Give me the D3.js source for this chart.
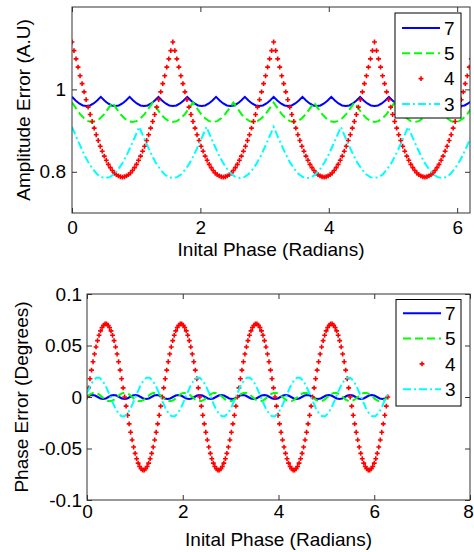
<!DOCTYPE html>
<html>
<head>
<meta charset="utf-8">
<script src="https://cdn.jsdelivr.net/npm/d3@7/dist/d3.min.js"></script>
<style>
	body { margin: 0; background: #fff; }
	text { font-family: "Liberation Sans", Arial, sans-serif; fill: #000; }
</style>
</head>
<body>
<script>
// legend labels, in plot order
var seriesNames = ['7', '5', '4', '3'];

// spacing of the samples along the phase axis (each series runs 0 .. 2pi)
var stepBlue = Math.PI / 56,
	stepGreen = Math.PI / 50,
	stepRed = Math.PI / 100,
	stepCyan = Math.PI / 48;

// ---- amplitude error (top panel) ----
var ampBlue = [
	0.982, 0.973, 0.966, 0.961, 0.960, 0.961, 0.966, 0.973,
	0.982, 0.973, 0.966, 0.961, 0.960, 0.961, 0.966, 0.973,
	0.982, 0.973, 0.966, 0.961, 0.960, 0.961, 0.966, 0.973,
	0.982, 0.973, 0.966, 0.961, 0.960, 0.961, 0.966, 0.973,
	0.982, 0.973, 0.966, 0.961, 0.960, 0.961, 0.966, 0.973,
	0.982, 0.973, 0.966, 0.961, 0.960, 0.961, 0.966, 0.973,
	0.982, 0.973, 0.966, 0.961, 0.960, 0.961, 0.966, 0.973,
	0.982, 0.973, 0.966, 0.961, 0.960, 0.961, 0.966, 0.973,
	0.982, 0.973, 0.966, 0.961, 0.960, 0.961, 0.966, 0.973,
	0.982, 0.973, 0.966, 0.961, 0.960, 0.961, 0.966, 0.973,
	0.982, 0.973, 0.966, 0.961, 0.960, 0.961, 0.966, 0.973,
	0.982, 0.973, 0.966, 0.961, 0.960, 0.961, 0.966, 0.973,
	0.982, 0.973, 0.966, 0.961, 0.960, 0.961, 0.966, 0.973,
	0.982, 0.973, 0.966, 0.961, 0.960, 0.961, 0.966, 0.973,
	0.982
];
var ampGreen = [
	0.968, 0.954, 0.940, 0.930, 0.923, 0.921, 0.923, 0.930, 0.940, 0.954,
	0.968, 0.954, 0.940, 0.930, 0.923, 0.921, 0.923, 0.930, 0.940, 0.954,
	0.968, 0.954, 0.940, 0.930, 0.923, 0.921, 0.923, 0.930, 0.940, 0.954,
	0.968, 0.954, 0.940, 0.930, 0.923, 0.921, 0.923, 0.930, 0.940, 0.954,
	0.968, 0.954, 0.940, 0.930, 0.923, 0.921, 0.923, 0.930, 0.940, 0.954,
	0.968, 0.954, 0.940, 0.930, 0.923, 0.921, 0.923, 0.930, 0.940, 0.954,
	0.968, 0.954, 0.940, 0.930, 0.923, 0.921, 0.923, 0.930, 0.940, 0.954,
	0.968, 0.954, 0.940, 0.930, 0.923, 0.921, 0.923, 0.930, 0.940, 0.954,
	0.968, 0.954, 0.940, 0.930, 0.923, 0.921, 0.923, 0.930, 0.940, 0.954,
	0.968, 0.954, 0.940, 0.930, 0.923, 0.921, 0.923, 0.930, 0.940, 0.954,
	0.968
];
var ampRed = [
	1.115, 1.094, 1.074, 1.054, 1.033, 1.014, 0.994, 0.975, 0.957, 0.939, 0.922, 0.906, 0.890, 0.876, 0.862, 0.850, 0.838, 0.828, 0.818, 0.810, 0.803, 0.797, 0.793, 0.790, 0.788,
	0.787, 0.788, 0.790, 0.793, 0.797, 0.803, 0.810, 0.818, 0.828, 0.838, 0.850, 0.862, 0.876, 0.890, 0.906, 0.922, 0.939, 0.957, 0.975, 0.994, 1.014, 1.033, 1.054, 1.074, 1.094,
	1.115, 1.094, 1.074, 1.054, 1.033, 1.014, 0.994, 0.975, 0.957, 0.939, 0.922, 0.906, 0.890, 0.876, 0.862, 0.850, 0.838, 0.828, 0.818, 0.810, 0.803, 0.797, 0.793, 0.790, 0.788,
	0.787, 0.788, 0.790, 0.793, 0.797, 0.803, 0.810, 0.818, 0.828, 0.838, 0.850, 0.862, 0.876, 0.890, 0.906, 0.922, 0.939, 0.957, 0.975, 0.994, 1.014, 1.033, 1.054, 1.074, 1.094,
	1.115, 1.094, 1.074, 1.054, 1.033, 1.014, 0.994, 0.975, 0.957, 0.939, 0.922, 0.906, 0.890, 0.876, 0.862, 0.850, 0.838, 0.828, 0.818, 0.810, 0.803, 0.797, 0.793, 0.790, 0.788,
	0.787, 0.788, 0.790, 0.793, 0.797, 0.803, 0.810, 0.818, 0.828, 0.838, 0.850, 0.862, 0.876, 0.890, 0.906, 0.922, 0.939, 0.957, 0.975, 0.994, 1.014, 1.033, 1.054, 1.074, 1.094,
	1.115, 1.094, 1.074, 1.054, 1.033, 1.014, 0.994, 0.975, 0.957, 0.939, 0.922, 0.906, 0.890, 0.876, 0.862, 0.850, 0.838, 0.828, 0.818, 0.810, 0.803, 0.797, 0.793, 0.790, 0.788,
	0.787, 0.788, 0.790, 0.793, 0.797, 0.803, 0.810, 0.818, 0.828, 0.838, 0.850, 0.862, 0.876, 0.890, 0.906, 0.922, 0.939, 0.957, 0.975, 0.994, 1.014, 1.033, 1.054, 1.074, 1.094,
	1.115
];
var ampCyan = [
	0.909, 0.885, 0.862, 0.840, 0.821, 0.806, 0.794, 0.787, 0.785, 0.787, 0.794, 0.806, 0.821, 0.840, 0.862, 0.885,
	0.909, 0.885, 0.862, 0.840, 0.821, 0.806, 0.794, 0.787, 0.785, 0.787, 0.794, 0.806, 0.821, 0.840, 0.862, 0.885,
	0.909, 0.885, 0.862, 0.840, 0.821, 0.806, 0.794, 0.787, 0.785, 0.787, 0.794, 0.806, 0.821, 0.840, 0.862, 0.885,
	0.909, 0.885, 0.862, 0.840, 0.821, 0.806, 0.794, 0.787, 0.785, 0.787, 0.794, 0.806, 0.821, 0.840, 0.862, 0.885,
	0.909, 0.885, 0.862, 0.840, 0.821, 0.806, 0.794, 0.787, 0.785, 0.787, 0.794, 0.806, 0.821, 0.840, 0.862, 0.885,
	0.909, 0.885, 0.862, 0.840, 0.821, 0.806, 0.794, 0.787, 0.785, 0.787, 0.794, 0.806, 0.821, 0.840, 0.862, 0.885,
	0.909
];

// ---- phase error (bottom panel) ----
var phBlue = [
	0, 0.0014, 0.002, 0.0014, 0, -0.0014, -0.002, -0.0014,
	0, 0.0014, 0.002, 0.0014, 0, -0.0014, -0.002, -0.0014,
	0, 0.0014, 0.002, 0.0014, 0, -0.0014, -0.002, -0.0014,
	0, 0.0014, 0.002, 0.0014, 0, -0.0014, -0.002, -0.0014,
	0, 0.0014, 0.002, 0.0014, 0, -0.0014, -0.002, -0.0014,
	0, 0.0014, 0.002, 0.0014, 0, -0.0014, -0.002, -0.0014,
	0, 0.0014, 0.002, 0.0014, 0, -0.0014, -0.002, -0.0014,
	0, 0.0014, 0.002, 0.0014, 0, -0.0014, -0.002, -0.0014,
	0, 0.0014, 0.002, 0.0014, 0, -0.0014, -0.002, -0.0014,
	0, 0.0014, 0.002, 0.0014, 0, -0.0014, -0.002, -0.0014,
	0, 0.0014, 0.002, 0.0014, 0, -0.0014, -0.002, -0.0014,
	0, 0.0014, 0.002, 0.0014, 0, -0.0014, -0.002, -0.0014,
	0, 0.0014, 0.002, 0.0014, 0, -0.0014, -0.002, -0.0014,
	0, 0.0014, 0.002, 0.0014, 0, -0.0014, -0.002, -0.0014,
	0
];
var phGreen = [
	0, 0.0025, 0.004, 0.004, 0.0025, 0, -0.0025, -0.004, -0.004, -0.0025,
	0, 0.0025, 0.004, 0.004, 0.0025, 0, -0.0025, -0.004, -0.004, -0.0025,
	0, 0.0025, 0.004, 0.004, 0.0025, 0, -0.0025, -0.004, -0.004, -0.0025,
	0, 0.0025, 0.004, 0.004, 0.0025, 0, -0.0025, -0.004, -0.004, -0.0025,
	0, 0.0025, 0.004, 0.004, 0.0025, 0, -0.0025, -0.004, -0.004, -0.0025,
	0, 0.0025, 0.004, 0.004, 0.0025, 0, -0.0025, -0.004, -0.004, -0.0025,
	0, 0.0025, 0.004, 0.004, 0.0025, 0, -0.0025, -0.004, -0.004, -0.0025,
	0, 0.0025, 0.004, 0.004, 0.0025, 0, -0.0025, -0.004, -0.004, -0.0025,
	0, 0.0025, 0.004, 0.004, 0.0025, 0, -0.0025, -0.004, -0.004, -0.0025,
	0, 0.0025, 0.004, 0.004, 0.0025, 0, -0.0025, -0.004, -0.004, -0.0025,
	0
];
var phRed = [
	0, 0.0089, 0.0177, 0.0261, 0.0342, 0.0417, 0.0486, 0.0547, 0.0599, 0.0642, 0.0675, 0.0697, 0.0709, 0.0709, 0.0697, 0.0675, 0.0642, 0.0599, 0.0547, 0.0486, 0.0417, 0.0342, 0.0261, 0.0177, 0.0089,
	0, -0.0089, -0.0177, -0.0261, -0.0342, -0.0417, -0.0486, -0.0547, -0.0599, -0.0642, -0.0675, -0.0697, -0.0709, -0.0709, -0.0697, -0.0675, -0.0642, -0.0599, -0.0547, -0.0486, -0.0417, -0.0342, -0.0261, -0.0177, -0.0089,
	0, 0.0089, 0.0177, 0.0261, 0.0342, 0.0417, 0.0486, 0.0547, 0.0599, 0.0642, 0.0675, 0.0697, 0.0709, 0.0709, 0.0697, 0.0675, 0.0642, 0.0599, 0.0547, 0.0486, 0.0417, 0.0342, 0.0261, 0.0177, 0.0089,
	0, -0.0089, -0.0177, -0.0261, -0.0342, -0.0417, -0.0486, -0.0547, -0.0599, -0.0642, -0.0675, -0.0697, -0.0709, -0.0709, -0.0697, -0.0675, -0.0642, -0.0599, -0.0547, -0.0486, -0.0417, -0.0342, -0.0261, -0.0177, -0.0089,
	0, 0.0089, 0.0177, 0.0261, 0.0342, 0.0417, 0.0486, 0.0547, 0.0599, 0.0642, 0.0675, 0.0697, 0.0709, 0.0709, 0.0697, 0.0675, 0.0642, 0.0599, 0.0547, 0.0486, 0.0417, 0.0342, 0.0261, 0.0177, 0.0089,
	0, -0.0089, -0.0177, -0.0261, -0.0342, -0.0417, -0.0486, -0.0547, -0.0599, -0.0642, -0.0675, -0.0697, -0.0709, -0.0709, -0.0697, -0.0675, -0.0642, -0.0599, -0.0547, -0.0486, -0.0417, -0.0342, -0.0261, -0.0177, -0.0089,
	0, 0.0089, 0.0177, 0.0261, 0.0342, 0.0417, 0.0486, 0.0547, 0.0599, 0.0642, 0.0675, 0.0697, 0.0709, 0.0709, 0.0697, 0.0675, 0.0642, 0.0599, 0.0547, 0.0486, 0.0417, 0.0342, 0.0261, 0.0177, 0.0089,
	0, -0.0089, -0.0177, -0.0261, -0.0342, -0.0417, -0.0486, -0.0547, -0.0599, -0.0642, -0.0675, -0.0697, -0.0709, -0.0709, -0.0697, -0.0675, -0.0642, -0.0599, -0.0547, -0.0486, -0.0417, -0.0342, -0.0261, -0.0177, -0.0089,
	0
];
var phCyan = [
	0.0038, 0.0106, 0.0158, 0.0187, 0.0186, 0.0158, 0.0105, 0.0036, -0.0038, -0.0106, -0.0158, -0.0187, -0.0186, -0.0158, -0.0105, -0.0036,
	0.0038, 0.0106, 0.0158, 0.0187, 0.0186, 0.0158, 0.0105, 0.0036, -0.0038, -0.0106, -0.0158, -0.0187, -0.0186, -0.0158, -0.0105, -0.0036,
	0.0038, 0.0106, 0.0158, 0.0187, 0.0186, 0.0158, 0.0105, 0.0036, -0.0038, -0.0106, -0.0158, -0.0187, -0.0186, -0.0158, -0.0105, -0.0036,
	0.0038, 0.0106, 0.0158, 0.0187, 0.0186, 0.0158, 0.0105, 0.0036, -0.0038, -0.0106, -0.0158, -0.0187, -0.0186, -0.0158, -0.0105, -0.0036,
	0.0038, 0.0106, 0.0158, 0.0187, 0.0186, 0.0158, 0.0105, 0.0036, -0.0038, -0.0106, -0.0158, -0.0187, -0.0186, -0.0158, -0.0105, -0.0036,
	0.0038, 0.0106, 0.0158, 0.0187, 0.0186, 0.0158, 0.0105, 0.0036, -0.0038, -0.0106, -0.0158, -0.0187, -0.0186, -0.0158, -0.0105, -0.0036,
	0.0038
];

// tick labels
var ampXTicks = [0, 2, 4, 6],
	ampYTicks = [0.8, 1],
	phXTicks = [0, 2, 4, 6, 8],
	phYTicks = [-0.1, -0.05, 0, 0.05, 0.1];

var width = 474,
	height = 552;

var svg = d3.select('body').append('svg')
	.attr('width', width)
	.attr('height', height);

function styles(values) {
	return [
		{ name: seriesNames[0], values: values[0], step: stepBlue, color: '#0000ff', dash: null },
		{ name: seriesNames[1], values: values[1], step: stepGreen, color: '#00ff00', dash: '8,4' },
		{ name: seriesNames[2], values: values[2], step: stepRed, color: '#ff0000', marker: true },
		{ name: seriesNames[3], values: values[3], step: stepCyan, color: '#00ffff', dash: '8,3,2,3' }
	];
}

function drawPanel(o) {
	var x = d3.scaleLinear().domain(o.xDomain).range([o.left, o.right]),
		y = d3.scaleLinear().domain(o.yDomain).range([o.bottom, o.top]);

	svg.append('clipPath').attr('id', 'clip-' + o.id)
		.append('rect')
		.attr('x', o.left).attr('y', o.top)
		.attr('width', o.right - o.left).attr('height', o.bottom - o.top);

	var plot = svg.append('g').attr('clip-path', 'url(#clip-' + o.id + ')');

	var line = d3.line()
		.x(function (d) { return x(d[0]); })
		.y(function (d) { return y(d[1]); });

	var cross = d3.symbol().type(d3.symbolCross).size(13);

	o.series.forEach(function (s) {
		var pts = s.values.map(function (v, i) { return [i * s.step, v]; });
		if (s.marker) {
			plot.selectAll(null)
				.data(pts)
				.enter().append('path')
				.attr('d', cross)
				.attr('transform', function (d) { return 'translate(' + x(d[0]) + ',' + y(d[1]) + ')'; })
				.attr('fill', s.color);
		} else {
			plot.append('path')
				.datum(pts)
				.attr('fill', 'none')
				.attr('stroke', s.color)
				.attr('stroke-width', 2)
				.attr('stroke-dasharray', s.dash)
				.attr('d', line);
		}
	});

	var fmt = function (d) { return String(d); };

	function tidy(g) {
		g.select('.domain').remove();
		g.attr('font-size', 19).attr('font-family', '"Liberation Sans", Arial, sans-serif');
		g.selectAll('.tick line').attr('stroke', '#333');
	}

	// ticks point inward, mirrored on top and right like the source
	var bottomAxis = svg.append('g')
		.attr('transform', 'translate(0,' + o.bottom + ')')
		.call(d3.axisBottom(x).tickValues(o.xTicks).tickSize(-5).tickPadding(o.xPad).tickFormat(fmt))
		.call(tidy);
	// last label sits on the picture's right edge
	bottomAxis.selectAll('.tick text')
		.filter(function (d) { return d === o.xDomain[1]; })
		.attr('dx', -2);

	svg.append('g')
		.attr('transform', 'translate(0,' + o.top + ')')
		.call(d3.axisTop(x).tickValues(o.xTicks).tickSize(-5).tickFormat(''))
		.call(tidy);
	svg.append('g')
		.attr('transform', 'translate(' + o.left + ',0)')
		.call(d3.axisLeft(y).tickValues(o.yTicks).tickSize(-5).tickPadding(o.yPad).tickFormat(fmt))
		.call(tidy);
	svg.append('g')
		.attr('transform', 'translate(' + o.right + ',0)')
		.call(d3.axisRight(y).tickValues(o.yTicks).tickSize(-5).tickFormat(''))
		.call(tidy);

	svg.append('rect')
		.attr('x', o.left).attr('y', o.top)
		.attr('width', o.right - o.left).attr('height', o.bottom - o.top)
		.attr('fill', 'none')
		.attr('stroke', '#333');

	svg.append('text')
		.attr('x', (o.left + o.right) / 2)
		.attr('y', o.xLabelY)
		.attr('text-anchor', 'middle')
		.attr('font-size', 19)
		.text('Inital Phase (Radians)');

	svg.append('text')
		.attr('transform', 'translate(' + o.yLabelX + ',' + (o.top + o.bottom) / 2 + ') rotate(-90)')
		.attr('text-anchor', 'middle')
		.attr('font-size', 19)
		.text(o.yLabel);

	// legend
	var lg = o.legend;
	var leg = svg.append('g');
	leg.append('rect')
		.attr('x', lg.x).attr('y', lg.y)
		.attr('width', lg.w).attr('height', lg.h)
		.attr('fill', '#fff')
		.attr('stroke', '#000');

	o.series.forEach(function (s, i) {
		var ly = lg.first + i * 25.3;
		if (s.marker) {
			leg.append('path')
				.attr('d', cross)
				.attr('transform', 'translate(' + (lg.x + 26) + ',' + ly + ')')
				.attr('fill', s.color);
		} else {
			leg.append('line')
				.attr('x1', lg.x + 7).attr('x2', lg.x + 45)
				.attr('y1', ly).attr('y2', ly)
				.attr('stroke', s.color)
				.attr('stroke-width', 2)
				.attr('stroke-dasharray', s.dash);
		}
		leg.append('text')
			.attr('x', lg.x + 49)
			.attr('y', ly)
			.attr('dy', '0.36em')
			.attr('font-size', 19)
			.text(s.name);
	});
}

drawPanel({
	id: 'amp',
	left: 72, right: 470, top: 7, bottom: 213,
	xDomain: [0, 6.2], yDomain: [0.7, 1.2],
	xTicks: ampXTicks, yTicks: ampYTicks,
	xPad: 8, yPad: 6,
	xLabelY: 256, yLabelX: 30,
	yLabel: 'Amplitude Error (A.U)',
	series: styles([ampBlue, ampGreen, ampRed, ampCyan]),
	legend: { x: 395, y: 13, w: 66, h: 105, first: 28 }
});

drawPanel({
	id: 'ph',
	left: 87, right: 470, top: 294, bottom: 500,
	xDomain: [0, 8], yDomain: [-0.1, 0.1],
	xTicks: phXTicks, yTicks: phYTicks,
	xPad: 5, yPad: 5,
	xLabelY: 546, yLabelX: 28,
	yLabel: 'Phase Error (Degrees)',
	series: styles([phBlue, phGreen, phRed, phCyan]),
	legend: { x: 396, y: 299.5, w: 65, h: 106.5, first: 313.3 }
});
</script>
</body>
</html>
